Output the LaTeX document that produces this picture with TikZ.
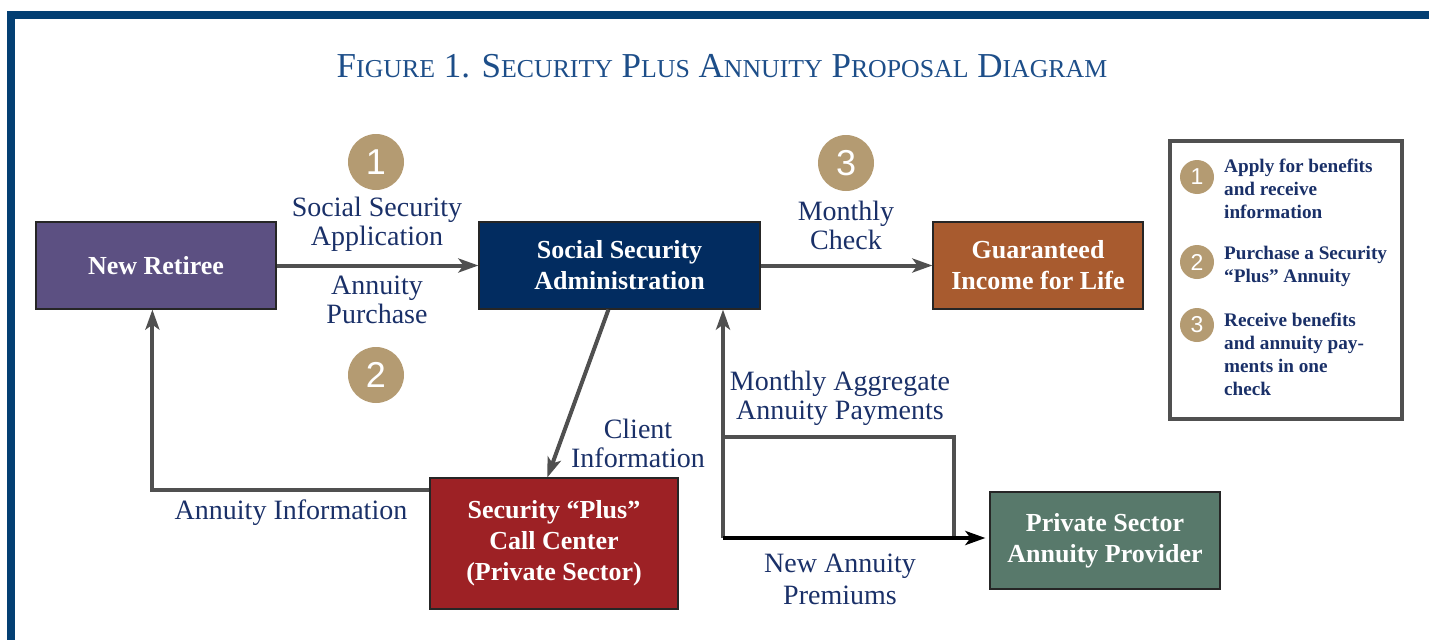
\documentclass[tikz,border=0pt]{standalone}
\usepackage{fontspec}
\setmainfont{Liberation Serif}
\newfontfamily\digitfont{Liberation Sans}
\usetikzlibrary{arrows.meta}

\definecolor{framecol}{HTML}{033F73}
\definecolor{titlecol}{HTML}{1D4E89}
\definecolor{labelcol}{HTML}{1A3068}
\definecolor{badgecol}{HTML}{B49B72}
\definecolor{linecol}{HTML}{505050}
\definecolor{retireecol}{HTML}{5C5082}
\definecolor{ssacol}{HTML}{022C60}
\definecolor{incomecol}{HTML}{A85B2F}
\definecolor{callcol}{HTML}{9D2125}
\definecolor{providercol}{HTML}{58796B}

% fake small caps: large initial, smaller capitals after it
\newcommand\fakesc[2]{{\fontsize{35}{35}\selectfont #1}{\fontsize{25.8}{25.8}\selectfont #2}}

\tikzset{
  box/.style={draw=black!85, line width=1.2pt, text=white, align=center, inner sep=0pt,
    font=\bfseries\fontsize{26}{31}\selectfont},
  flowlabel/.style={text=labelcol, align=center, inner sep=0pt,
    font=\fontsize{28}{29}\selectfont},
  badge/.style={circle, fill=badgecol, text=white, inner sep=0pt, minimum size=56pt,
    font=\digitfont\fontsize{36}{36}\selectfont},
  smallbadge/.style={circle, fill=badgecol, text=white, inner sep=0pt, minimum size=34pt,
    font=\digitfont\fontsize{23}{23}\selectfont},
  legendtext/.style={text=labelcol, align=left, inner sep=0pt, anchor=north west,
    font=\bfseries\fontsize{19.2}{23}\selectfont},
  flow/.style={draw=linecol, line width=4pt,
    -{Stealth[length=20pt, width=14pt, inset=5pt]}},
  flowline/.style={draw=linecol, line width=4pt},
  premium/.style={draw=black, line width=4.5pt,
    -{Stealth[length=20pt, width=14pt, inset=5pt]}},
}

\begin{document}
\begin{tikzpicture}[x=1pt, y=-1pt]
\useasboundingbox (0,0) rectangle (1429,640);

% page frame
\fill[framecol] (7,11) rectangle (1429,19);
\fill[framecol] (7,11) rectangle (15,640);

% title
\node[text=titlecol, inner sep=0pt, anchor=base, font=\fontsize{35}{35}\selectfont] (title) at (722,77)
  {\fakesc{F}{IGURE} \fakesc{1.}{} \fakesc{S}{ECURITY} \fakesc{P}{LUS} \fakesc{A}{NNUITY} \fakesc{P}{ROPOSAL} \fakesc{D}{IAGRAM}};

% boxes
\node[box, fill=retireecol, minimum width=240pt, minimum height=87pt] (nr) at (156,265.5) {New Retiree};
\node[box, fill=ssacol, minimum width=281pt, minimum height=87pt] (ssa) at (619.5,265.5) {Social Security\\Administration};
\node[box, fill=incomecol, minimum width=210pt, minimum height=87pt] (gi) at (1038,265.5) {Guaranteed\\Income for Life};
\node[box, fill=callcol, minimum width=248pt, minimum height=131pt] (cc) at (554,543.5) {Security “Plus”\\Call Center\\(Private Sector)};
\node[box, fill=providercol, minimum width=230pt, minimum height=97pt] (ps) at (1105,540.5) {Private Sector\\Annuity Provider};

% step badges
\node[badge] (b1) at (376,162) {1};
\node[badge] (b2) at (376,375) {2};
\node[badge] (b3) at (846,163) {3};

% flow labels
\node[flowlabel] (l1) at (377,224) {Social Security\\Application};
\node[flowlabel] (l2) at (377,300) {Annuity\\Purchase};
\node[flowlabel] (l3) at (846,225) {Monthly\\Check};
\node[flowlabel] (l4) at (638,443) {Client\\Information};
\node[flowlabel] (l5) at (840,398) {Monthly Aggregate\\Annuity Payments};
\node[flowlabel] (l6) at (291,513) {Annuity Information};
\node[flowlabel, font=\fontsize{28}{32}\selectfont] (l7) at (840,579) {New Annuity\\Premiums};

% connectors
\coordinate (loopBL) at (723,538);
\coordinate (loopTL) at (723,437);
\coordinate (loopBR) at (954,538);

\draw[flow] (nr.east) -- (ssa.west);
\draw[flow] (ssa.east) -- (gi.west);
\draw[flow] ([xshift=130pt]ssa.south west) -- ([xshift=118pt]cc.north west);
\draw[flow] ([yshift=-13pt]cc.north west) -| ([xshift=117pt]nr.south west);
\draw[flowline] (loopTL) -| (loopBR);
\draw[flow] (loopBL) -- (loopBL |- ssa.south);
\draw[premium, shorten >=4pt] (loopBL) -- (loopBL -| ps.west);

% legend
\node[draw=linecol, line width=4pt, minimum width=232pt, minimum height=278pt, inner sep=0pt] (legend) at (1286,280) {};
\node[smallbadge] (k1) at (1197,177) {1};
\node[smallbadge] (k2) at (1197,262) {2};
\node[smallbadge] (k3) at (1197,325) {3};
\node[legendtext] (t1) at (1224,159) {Apply for benefits\\and receive\\information};
\node[legendtext] (t2) at (1224,246) {Purchase a Security\\“Plus” Annuity};
\node[legendtext] (t3) at (1224,313) {Receive benefits\\and annuity pay-\\ments in one\\check};
\end{tikzpicture}
\end{document}
